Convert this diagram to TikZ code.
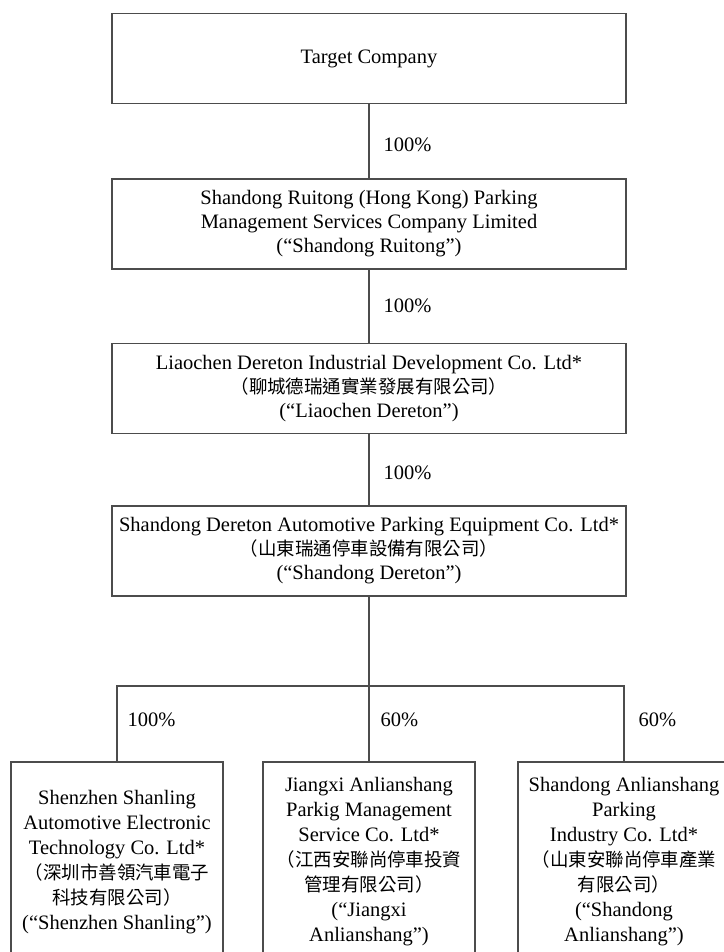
\documentclass[tikz,border=0pt]{standalone}
\usepackage{fontspec}
\setmainfont{Liberation Serif}
\newfontfamily\cjk[Scale=0.9]{Noto Sans CJK TC}
\newcommand{\zh}[1]{{\cjk #1}}

\begin{document}
\begin{tikzpicture}[x=1pt, y=-1pt, font=\fontsize{20.5}{24}\selectfont,
  linea/.style={draw=black!70, line width=1.1pt},
  firma/.style={linea, text=black, align=center, inner sep=0pt, minimum width=514pt, minimum height=90pt},
  filial/.style={firma, minimum width=212pt, minimum height=200pt, font=\fontsize{20.5}{25}\selectfont},
  pct/.style={anchor=west}]
  \useasboundingbox (0,0) rectangle (723,952);
  \node[firma] (tc) at (369,58.5) {Target Company};
  \node[firma] (sr) at (369,224) {Shandong Ruitong (Hong Kong) Parking\\Management Services Company Limited\\(“Shandong Ruitong”)};
  \node[firma] (ld) at (369,388.5) {Liaochen Dereton Industrial Development Co. Ltd*\\\zh{（聊城德瑞通實業發展有限公司）}\\(“Liaochen Dereton”)};
  \node[firma] (sd) at (369,551) {Shandong Dereton Automotive Parking Equipment Co. Ltd*\\\zh{（山東瑞通停車設備有限公司）}\\(“Shandong Dereton”)};
  \node[filial] (sz) at (117,862) {Shenzhen Shanling\\Automotive Electronic\\Technology Co. Ltd*\\\zh{（深圳市善領汽車電子}\\\zh{科技有限公司）}\\(“Shenzhen Shanling”)};
  \node[filial] (jx) at (369,862) {Jiangxi Anlianshang\\Parkig Management\\Service Co. Ltd*\\\zh{（江西安聯尚停車投資}\\\zh{管理有限公司）}\\(“Jiangxi\\Anlianshang”)};
  \node[filial] (sa) at (624,862) {Shandong Anlianshang\\Parking\\Industry Co. Ltd*\\\zh{（山東安聯尚停車產業}\\\zh{有限公司）}\\(“Shandong\\Anlianshang”)};
  \coordinate (bar) at (369,686);
  \draw[linea] (tc) -- (sr);
  \draw[linea] (sr) -- (ld);
  \draw[linea] (ld) -- (sd);
  \draw[linea] (sd) -- (bar);
  \draw[linea] (sz.north) |- (bar) -| (sa.north);
  \draw[linea] (bar) -- (jx);
  \node[pct] (p1) at (380,145) {100\%};
  \node[pct] (p2) at (380,306) {100\%};
  \node[pct] (p3) at (380,473) {100\%};
  \node[pct] (p4) at (124,720) {100\%};
  \node[pct] (p5) at (377,720) {60\%};
  \node[pct] (p6) at (635,720) {60\%};
\end{tikzpicture}
\end{document}
